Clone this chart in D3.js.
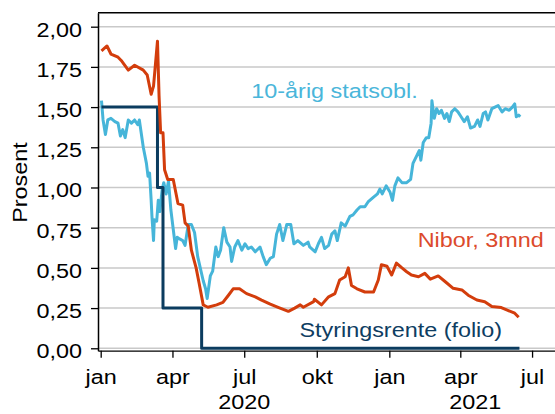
<!DOCTYPE html>
<html>
<head>
<meta charset="utf-8">
<script src="https://cdn.jsdelivr.net/npm/d3@7"></script>
<style>
  body { margin: 0; background: #fff; }
  text { font-family: "Liberation Sans", Arial, sans-serif; }
</style>
</head>
<body>
<svg id="mainsvg" width="555" height="414"></svg>
<script>
// 10-årig statsobligasjon
const stat10 = [
  ["2020-01-02",1.54],["2020-01-04",1.42],["2020-01-07",1.33],["2020-01-10",1.42],["2020-01-14",1.43],
  ["2020-01-19",1.41],["2020-01-23",1.40],["2020-01-26",1.32],["2020-01-29",1.36],["2020-02-01",1.31],
  ["2020-02-05",1.42],["2020-02-09",1.40],["2020-02-13",1.42],["2020-02-17",1.39],["2020-02-19",1.42],
  ["2020-02-24",1.25],["2020-02-28",1.15],["2020-03-01",1.07],["2020-03-03",1.09],["2020-03-05",0.92],
  ["2020-03-06",0.82],["2020-03-08",0.67],["2020-03-09",0.80],["2020-03-12",0.79],["2020-03-14",0.92],
  ["2020-03-16",0.85],["2020-03-19",0.99],["2020-03-21",1.03],["2020-03-24",0.96],["2020-03-27",1.04],
  ["2020-03-30",0.86],["2020-04-02",0.74],["2020-04-05",0.62],["2020-04-07",0.69],["2020-04-10",0.68],
  ["2020-04-14",0.67],["2020-04-17",0.64],["2020-04-21",0.77],["2020-04-25",0.77],["2020-04-29",0.72],
  ["2020-05-03",0.57],["2020-05-10",0.42],["2020-05-13",0.37],["2020-05-15",0.31],["2020-05-19",0.45],
  ["2020-05-22",0.48],["2020-05-26",0.63],["2020-05-29",0.57],["2020-06-01",0.61],["2020-06-05",0.75],
  ["2020-06-09",0.66],["2020-06-13",0.63],["2020-06-15",0.54],["2020-06-19",0.63],["2020-06-23",0.67],
  ["2020-06-28",0.61],["2020-07-02",0.65],["2020-07-06",0.62],["2020-07-10",0.63],["2020-07-15",0.60],
  ["2020-07-21",0.63],["2020-07-25",0.57],["2020-07-29",0.52],["2020-08-03",0.56],["2020-08-07",0.57],
  ["2020-08-11",0.71],["2020-08-15",0.77],["2020-08-19",0.67],["2020-08-24",0.77],["2020-08-29",0.77],
  ["2020-09-02",0.65],["2020-09-07",0.67],["2020-09-14",0.64],["2020-09-20",0.66],["2020-09-22",0.63],
  ["2020-09-29",0.60],["2020-10-03",0.65],["2020-10-07",0.69],["2020-10-11",0.62],["2020-10-16",0.64],
  ["2020-10-20",0.71],["2020-10-24",0.73],["2020-10-27",0.67],["2020-11-01",0.78],["2020-11-06",0.76],
  ["2020-11-12",0.82],["2020-11-16",0.83],["2020-11-21",0.86],["2020-11-25",0.88],["2020-12-01",0.88],
  ["2020-12-05",0.91],["2020-12-12",0.94],["2020-12-17",0.96],["2020-12-20",0.99],["2020-12-23",0.96],
  ["2020-12-28",1.01],["2021-01-02",0.97],["2021-01-05",0.92],["2021-01-08",1.01],["2021-01-12",1.06],
  ["2021-01-17",1.03],["2021-01-23",1.03],["2021-01-28",1.05],["2021-01-31",1.15],["2021-02-05",1.20],
  ["2021-02-08",1.23],["2021-02-10",1.17],["2021-02-13",1.28],["2021-02-17",1.31],["2021-02-20",1.31],
  ["2021-02-23",1.40],["2021-02-24",1.54],["2021-02-27",1.43],["2021-03-02",1.49],["2021-03-05",1.46],
  ["2021-03-08",1.48],["2021-03-12",1.43],["2021-03-15",1.46],["2021-03-18",1.41],["2021-03-21",1.47],
  ["2021-03-25",1.49],["2021-03-29",1.47],["2021-04-02",1.44],["2021-04-06",1.41],["2021-04-10",1.44],
  ["2021-04-14",1.37],["2021-04-19",1.38],["2021-04-23",1.42],["2021-04-26",1.38],["2021-04-30",1.46],
  ["2021-05-03",1.47],["2021-05-06",1.42],["2021-05-11",1.49],["2021-05-15",1.50],["2021-05-19",1.51],
  ["2021-05-24",1.47],["2021-05-28",1.49],["2021-06-02",1.48],["2021-06-06",1.50],["2021-06-09",1.52],
  ["2021-06-11",1.44],["2021-06-14",1.45],["2021-06-16",1.44]
]

// Nibor, 3 mnd
const nibor = [
  ["2020-01-02",1.85],["2020-01-09",1.88],["2020-01-14",1.83],["2020-01-23",1.81],["2020-01-27",1.79],
  ["2020-02-05",1.73],["2020-02-13",1.76],["2020-02-24",1.73],["2020-02-29",1.70],["2020-03-05",1.58],
  ["2020-03-08",1.63],["2020-03-13",1.91],["2020-03-15",1.57],["2020-03-17",1.34],["2020-03-20",1.34],
  ["2020-03-22",1.11],["2020-03-26",1.05],["2020-04-02",1.05],["2020-04-08",0.90],["2020-04-14",0.89],
  ["2020-04-17",0.78],["2020-04-21",0.76],["2020-04-25",0.61],["2020-05-01",0.50],["2020-05-05",0.40],
  ["2020-05-10",0.27],["2020-05-14",0.26],["2020-05-16",0.255],["2020-05-27",0.27],["2020-06-04",0.285],
  ["2020-06-11",0.33],["2020-06-17",0.37],["2020-06-25",0.37],["2020-07-04",0.34],["2020-07-15",0.32],
  ["2020-07-23",0.30],["2020-08-03",0.275],["2020-08-13",0.255],["2020-08-26",0.23],["2020-09-03",0.25],
  ["2020-09-10",0.27],["2020-09-14",0.255],["2020-09-27",0.29],["2020-09-28",0.305],["2020-10-07",0.27],
  ["2020-10-16",0.32],["2020-10-24",0.34],["2020-10-30",0.425],["2020-11-06",0.445],["2020-11-10",0.50],
  ["2020-11-14",0.39],["2020-11-21",0.37],["2020-12-01",0.35],["2020-12-12",0.35],["2020-12-18",0.425],
  ["2020-12-22",0.52],["2020-12-29",0.51],["2021-01-04",0.456],["2021-01-10",0.53],["2021-01-17",0.50],
  ["2021-01-23",0.476],["2021-01-29",0.456],["2021-02-07",0.445],["2021-02-15",0.466],["2021-02-22",0.43],
  ["2021-03-04",0.45],["2021-03-13",0.414],["2021-03-23",0.373],["2021-04-03",0.363],["2021-04-11",0.33],
  ["2021-04-22",0.30],["2021-05-02",0.29],["2021-05-11",0.26],["2021-05-23",0.253],["2021-06-01",0.234],
  ["2021-06-09",0.218],["2021-06-14",0.193]
]

// Styringsrente (folio), trappetrinn
const styringsrente = [
  ["2020-01-02",1.5],["2020-03-13",1.0],["2020-03-20",0.25],["2020-05-08",0],["2021-06-15",0]
]

const yTicks = [0, 0.25, 0.5, 0.75, 1.0, 1.25, 1.5, 1.75, 2.0]
const monthNames = ["jan","feb","mar","apr","mai","jun","jul","aug","sep","okt","nov","des"]
const yearLabels = [["2020-07-01","2020"],["2021-04-20","2021"]]
const seriesLabels = [
  {text: "10-årig statsobl.", date: "2020-07-10", value: 1.555, color: "#4ab6da"},
  {text: "Nibor, 3mnd", date: "2021-02-06", value: 0.628, color: "#dc4a2c"},
  {text: "Styringsrente (folio)", date: "2020-09-09", value: 0.07, color: "#0e3d62"}
]

const COLORS = {stat: "#46b5d9", nibor: "#d33d0c", rate: "#0b3c5f"}
const SX = 1.2
const FS = 19.5

const parse = d3.timeParse("%Y-%m-%d")
let svg = d3.select("#mainsvg")

const x = d3.scaleTime()
  .domain([new Date(2019, 11, 28, 14), new Date(2021, 6, 30, 2)])
  .range([98, 555])
const y = d3.scaleLinear()
  .domain([-0.015, 2.087])
  .range([350.7, 12.7])

const nf = d3.formatLocale({decimal: ",", thousands: " ", grouping: [3], currency: ["", ""]}).format(".2f")

// rutenett
svg.append("g")
  .selectAll("line")
  .data(yTicks)
  .enter()
  .append("line")
  .attr("x1", 98).attr("x2", 555)
  .attr("y1", d => y(d)).attr("y2", d => y(d))
  .attr("stroke", "#c9c9c9")
  .attr("stroke-width", 1.5)

// ramme topp
svg.append("line")
  .attr("x1", 98).attr("x2", 555).attr("y1", 12.7).attr("y2", 12.7)
  .attr("stroke", "#000").attr("stroke-width", 1.5)

// y-akse
let yAxis = svg.append("g")
  .attr("transform", "translate(98,0)")
  .call(d3.axisLeft(y).tickValues(yTicks).tickFormat(nf).tickSize(7).tickSizeOuter(0))
yAxis.select(".domain").attr("stroke", "#000").attr("stroke-width", 1.5)
yAxis.selectAll(".tick line").attr("stroke-width", 1.3)
yAxis.selectAll(".tick text")
  .attr("x", null).attr("dy", null)
  .attr("transform", `translate(-16,9.4) scale(${SX},1)`)
  .attr("font-size", FS).attr("fill", "#000")
  .attr("font-family", "Liberation Sans, Arial, sans-serif")

// x-akse
let xAxis = svg.append("g")
  .attr("transform", "translate(0,350.7)")
  .call(d3.axisBottom(x).ticks(d3.timeMonth.every(3))
    .tickFormat(d => monthNames[d.getMonth()]).tickSize(7).tickSizeOuter(0))
xAxis.select(".domain").attr("stroke", "#000").attr("stroke-width", 1.3)
xAxis.selectAll(".tick line").attr("stroke-width", 1.3)
xAxis.selectAll(".tick text")
  .attr("y", null).attr("dy", null)
  .attr("transform", `translate(0,33) scale(${SX},1)`)
  .attr("font-size", FS).attr("fill", "#000")
  .attr("font-family", "Liberation Sans, Arial, sans-serif")

svg.append("g")
  .selectAll("text")
  .data(yearLabels)
  .enter()
  .append("text")
  .attr("transform", d => `translate(${x(parse(d[0]))},409) scale(${SX},1)`)
  .attr("text-anchor", "middle")
  .attr("font-size", FS)
  .text(d => d[1])

// akse-tittel
svg.append("text")
  .attr("transform", `translate(26.5,182.5) rotate(-90) scale(${SX},1)`)
  .attr("text-anchor", "middle")
  .attr("font-size", FS)
  .text("Prosent")

// linjer
const line = d3.line().x(d => x(parse(d[0]))).y(d => y(d[1]))
const stepLine = d3.line().x(d => x(parse(d[0]))).y(d => y(d[1])).curve(d3.curveStepAfter)

let lines = svg.append("g").attr("fill", "none").attr("stroke-linejoin", "round")
lines.append("path").datum(stat10)
  .attr("d", line).attr("stroke", COLORS.stat).attr("stroke-width", 3)
lines.append("path").datum(styringsrente)
  .attr("d", stepLine).attr("stroke", COLORS.rate).attr("stroke-width", 3)
lines.append("path").datum(nibor)
  .attr("d", line).attr("stroke", COLORS.nibor).attr("stroke-width", 3)

// seriemerker
svg.append("g")
  .selectAll("text")
  .data(seriesLabels)
  .enter()
  .append("text")
  .attr("transform", d => `translate(${x(parse(d.date))},${y(d.value)}) scale(${SX},1)`)
  .attr("font-size", FS)
  .attr("fill", d => d.color)
  .text(d => d.text)
</script>
</body>
</html>
